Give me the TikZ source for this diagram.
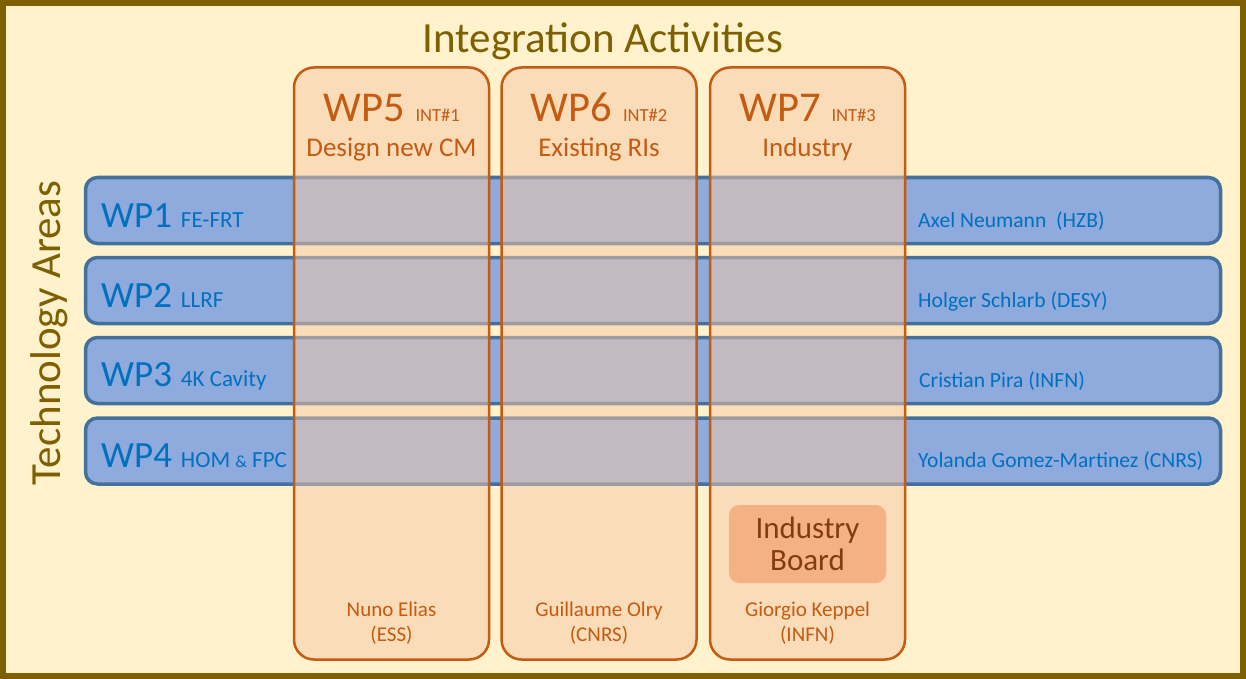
\documentclass[tikz,border=0pt]{standalone}
\usepackage{fontspec}
\setmainfont{Carlito}
\definecolor{bg}{HTML}{FFF2CC}
\definecolor{olive}{HTML}{7F6000}
\definecolor{barfill}{HTML}{8FAADC}
\definecolor{barline}{HTML}{41719C}
\definecolor{bluetxt}{HTML}{0070C0}
\definecolor{colfill}{RGB}{247,200,168}
\definecolor{orangeline}{HTML}{C55A11}
\definecolor{boardfill}{HTML}{F4B183}
\definecolor{boardtxt}{HTML}{843C0C}
\newcommand{\fs}[1]{\fontsize{#1}{#1}\selectfont}
\begin{document}
\begin{tikzpicture}[x=1pt,y=-1pt,
  bar/.style={draw=barline,line width=3.5pt,fill=barfill,rounded corners=12pt,
    minimum width=1135pt,minimum height=66pt,inner sep=0pt},
  col/.style={draw=orangeline,line width=2.5pt,fill=colfill,fill opacity=0.5,draw opacity=1,
    rounded corners=20pt,minimum width=195pt,minimum height=592pt,inner sep=0pt},
  wplabel/.style={anchor=base west,inner sep=0pt,text=bluetxt},
  person/.style={anchor=base west,inner sep=0pt,text=bluetxt,font=\fs{21.6}},
  coltitle/.style={anchor=base,inner sep=0pt,text=orangeline},
  colname/.style={anchor=base,inner sep=0pt,text=orangeline,font=\fs{21}},
  board/.style={fill=boardfill,rounded corners=10pt,minimum width=157pt,minimum height=78pt,inner sep=0pt},
  boardtext/.style={anchor=base,inner sep=0pt,text=boardtxt,font=\fs{31}}]
\useasboundingbox (0,0) rectangle (1246,679);
\fill[bg] (0,0) rectangle (1246,679);
\draw[olive,line width=6pt] (3,3) rectangle (1243,676);
% title
\node[anchor=base,inner sep=0pt,text=olive,font=\fs{43}] (title) at (603,53) {Integration Activities};
\node[anchor=base,inner sep=0pt,text=olive,font=\fs{43},rotate=90] (tech) at (60,333) {Technology Areas};
% bars
\node[bar] (wp1) at (653,210.5) {};
\node[bar] (wp2) at (653,290.5) {};
\node[bar] (wp3) at (653,370.5) {};
\node[bar] (wp4) at (653,451) {};
\node[wplabel] (wp1l) at (101,227) {{\fs{37}WP1}\hspace{9pt}{\fs{23}FE-FRT}};
\node[wplabel] (wp2l) at (101,307) {{\fs{37}WP2}\hspace{9pt}{\fs{23}LLRF}};
\node[wplabel] (wp3l) at (101,386) {{\fs{37}WP3}\hspace{9pt}{\fs{23}4K Cavity}};
\node[wplabel] (wp4l) at (101,467) {{\fs{37}WP4}\hspace{9pt}{\fs{23}HOM {\fs{17}\&} FPC}};
\node[person] (p1) at (918,227) {Axel Neumann\ \ (HZB)};
\node[person] (p2) at (918,307) {Holger Schlarb (DESY)};
\node[person] (p3) at (919,387) {Cristian Pira (INFN)};
\node[person] (p4) at (918,467) {Yolanda Gomez-Martinez (CNRS)};
% columns
\node[col] (wp5) at (391.5,363.5) {};
\node[col] (wp6) at (599,363.5) {};
\node[col] (wp7) at (807.5,363.5) {};
\node[coltitle] (wp5t) at (391.5,122) {{\fs{42.5}WP5}\hspace{11pt}{\fs{18.5}INT\#1}};
\node[coltitle] (wp6t) at (599,122) {{\fs{42.5}WP6}\hspace{11pt}{\fs{18.5}INT\#2}};
\node[coltitle] (wp7t) at (807.5,122) {{\fs{42.5}WP7}\hspace{11pt}{\fs{18.5}INT\#3}};
\node[coltitle,font=\fs{27}] (wp5s) at (391.5,157) {Design new CM};
\node[coltitle,font=\fs{27}] (wp6s) at (599,157) {Existing RIs};
\node[coltitle,font=\fs{27}] (wp7s) at (807.5,157) {Industry};
\node[colname] (n5a) at (391.5,616) {Nuno Elias};
\node[colname] (n5b) at (391.5,641) {(ESS)};
\node[colname] (n6a) at (599,616) {Guillaume Olry};
\node[colname] (n6b) at (599,641) {(CNRS)};
\node[colname] (n7a) at (807.5,616) {Giorgio Keppel};
\node[colname] (n7b) at (807.5,641) {(INFN)};
% industry board
\node[board] (ib) at (807.5,544) {};
\node[boardtext] (ib1) at (807.5,538) {Industry};
\node[boardtext] (ib2) at (807.5,570) {Board};
\end{tikzpicture}
\end{document}
